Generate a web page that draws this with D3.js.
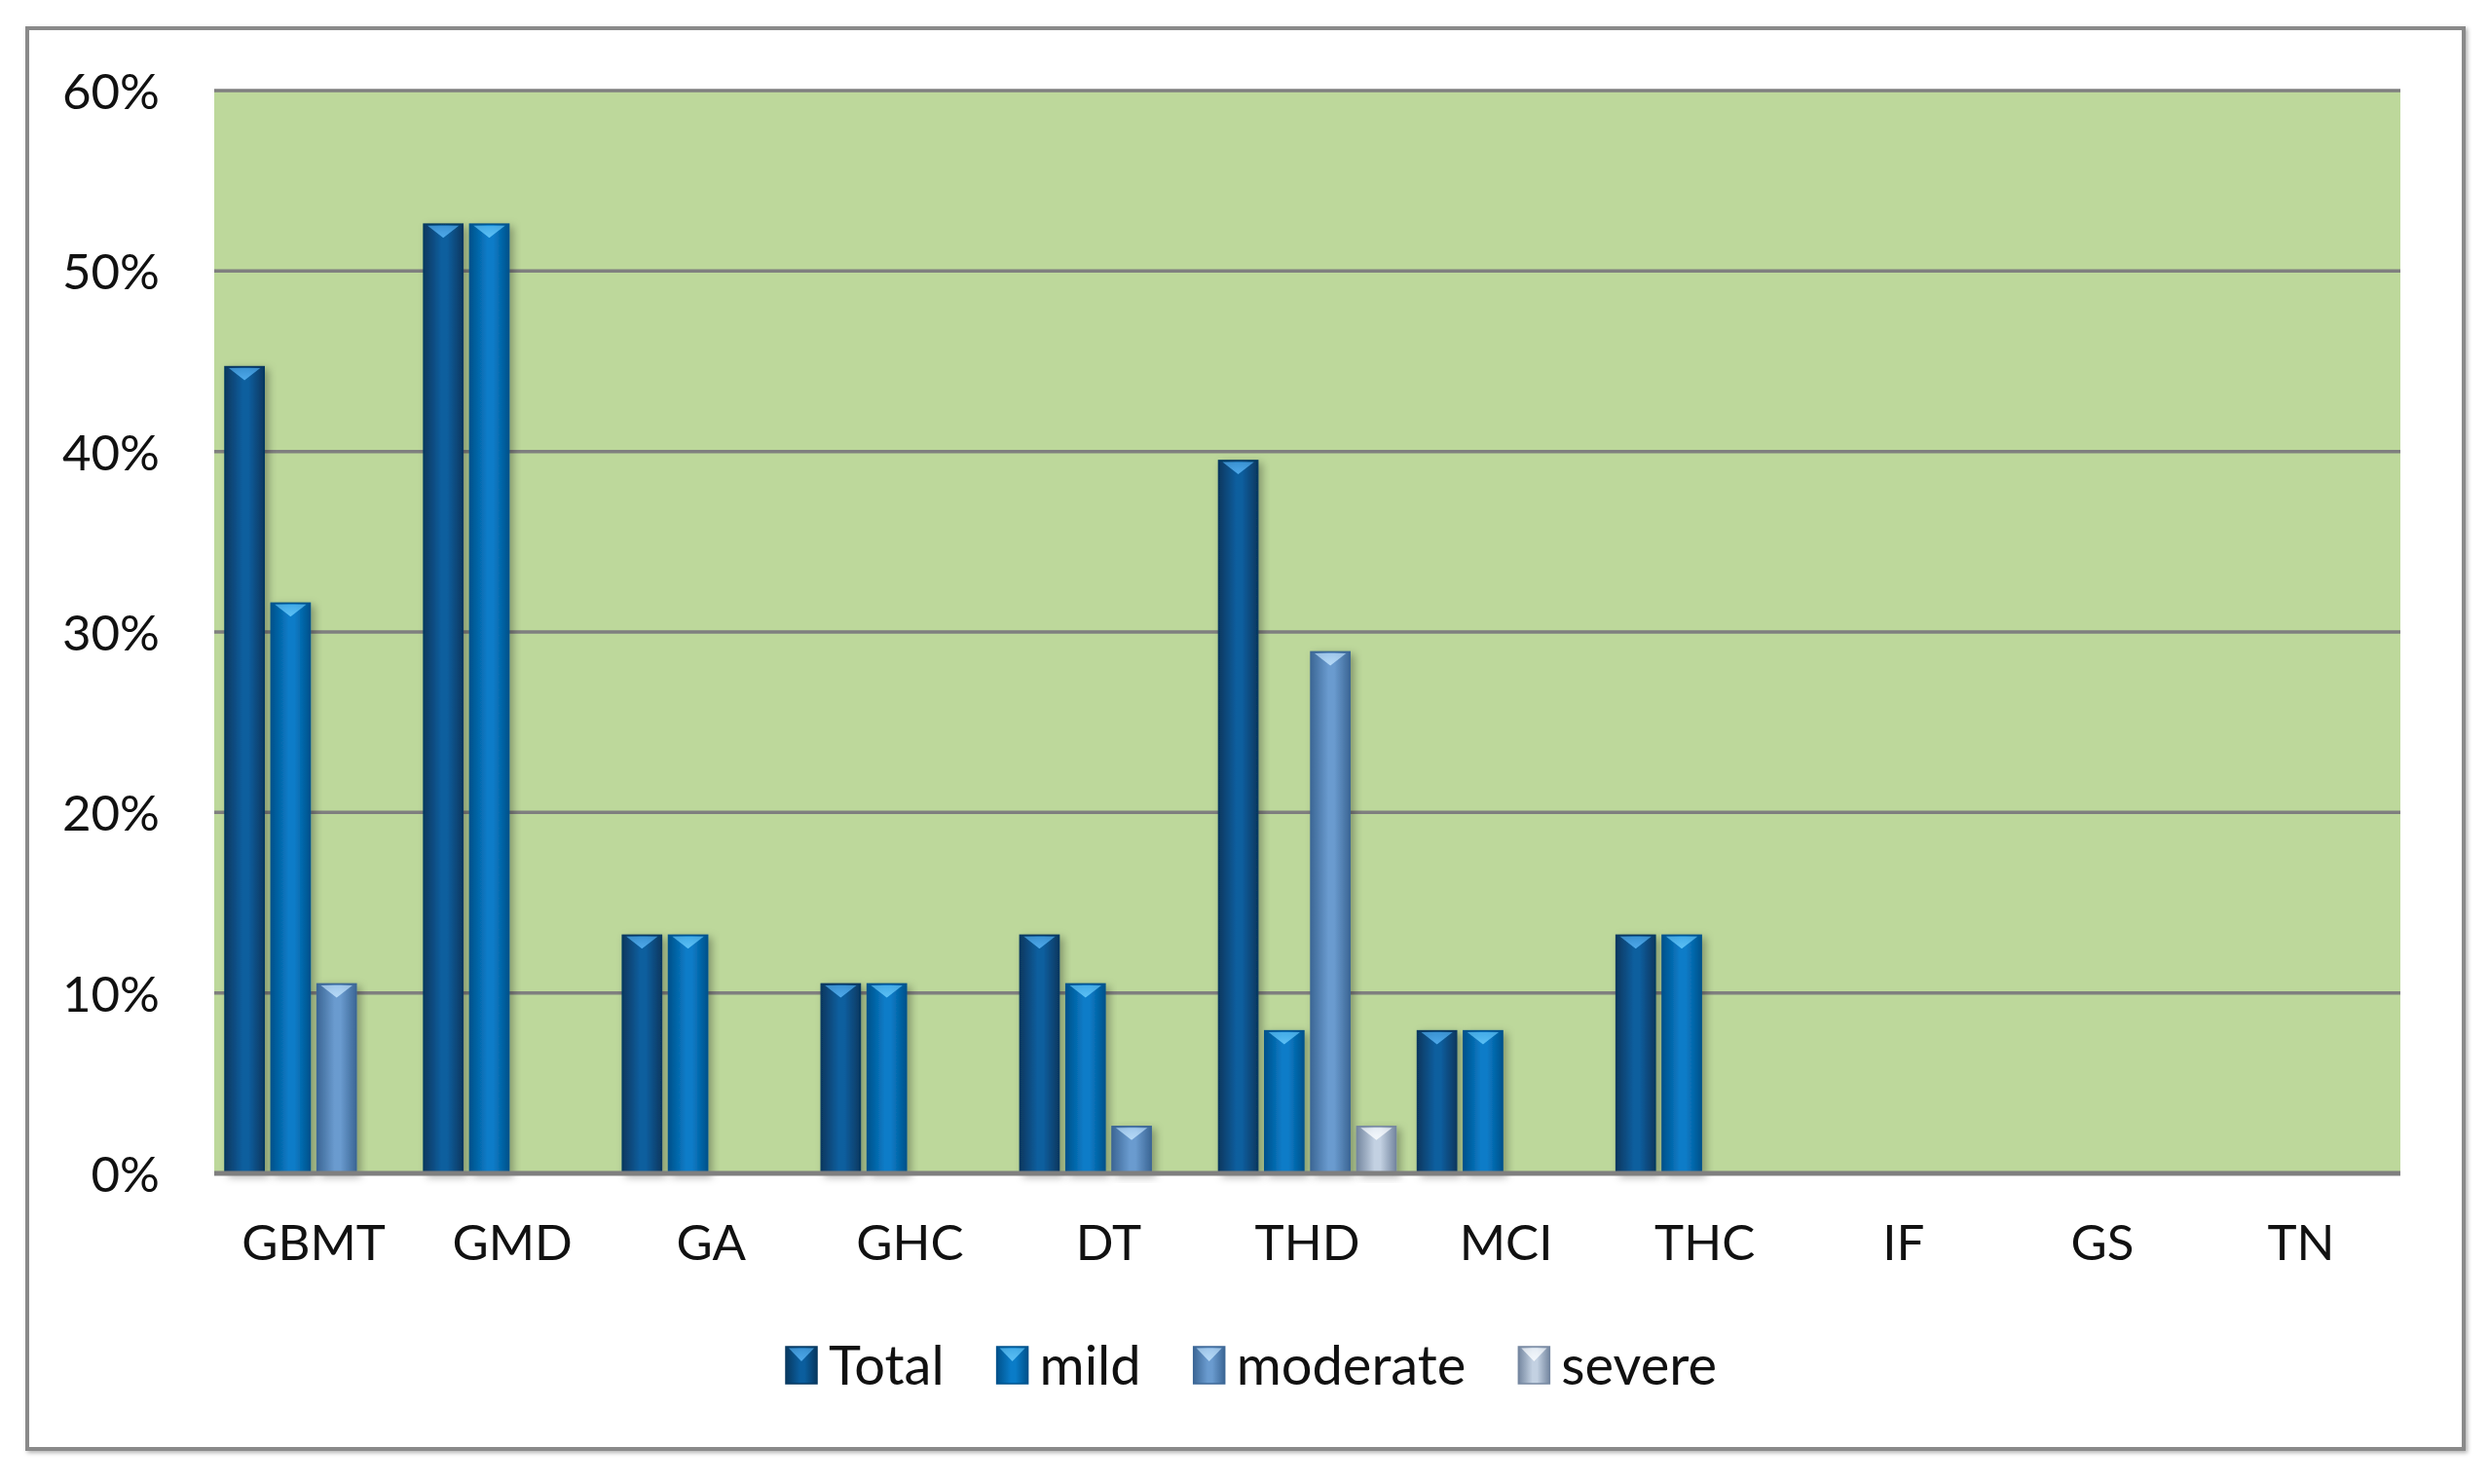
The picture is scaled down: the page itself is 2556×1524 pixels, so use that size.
<!DOCTYPE html>
<html><head><meta charset="utf-8">
<script src="https://cdn.jsdelivr.net/npm/d3@7/dist/d3.min.js"></script>
<style>html,body{margin:0;padding:0;background:#fff;}svg{display:block;}</style>
</head><body>
<svg id="c" width="2556" height="1524"></svg>
<script>
const categories = ["GBMT","GMD","GA","GHC","DT","THD","MCI","THC","IF","GS","TN"];
const seriesNames = ["Total","mild","moderate","severe"];
const totalValues    = [44.7, 52.6, 13.2, 10.5, 13.2, 39.5, 7.9, 13.2, 0, 0, 0];
const mildValues     = [31.6, 52.6, 13.2, 10.5, 10.5, 7.9, 7.9, 13.2, 0, 0, 0];
const moderateValues = [10.5, 0, 0, 0, 2.6, 28.9, 0, 0, 0, 0, 0];
const severeValues   = [0, 0, 0, 0, 0, 2.6, 0, 0, 0, 0, 0];
const yTicks = [0, 10, 20, 30, 40, 50, 60];

const seriesValues = [totalValues, mildValues, moderateValues, severeValues];
const seriesStyle = [
  {edge:"#073860", mid:"#0b5e9e", cap:"#4fa9ea"},
  {edge:"#00528c", mid:"#0a7cc8", cap:"#5cc0f5"},
  {edge:"#3c6796", mid:"#6a9bcf", cap:"#b7daf7"},
  {edge:"#7587a0", mid:"#c3d1e2", cap:"#f4f8fc"}
];

const svg = d3.select("#c");
const plot = {left:220, right:2465, top:93, bottom:1205};

const defs = svg.append("defs");
seriesStyle.forEach((s,i)=>{
  const g = defs.append("linearGradient").attr("id","g"+i).attr("x1","0").attr("x2","1").attr("y1","0").attr("y2","0");
  g.append("stop").attr("offset","0").attr("stop-color",s.edge);
  g.append("stop").attr("offset","0.45").attr("stop-color",s.mid);
  g.append("stop").attr("offset","0.6").attr("stop-color",s.mid);
  g.append("stop").attr("offset","1").attr("stop-color",s.edge);
  const c = defs.append("linearGradient").attr("id","cap"+i).attr("x1","0").attr("x2","0").attr("y1","0").attr("y2","1");
  c.append("stop").attr("offset","0").attr("stop-color",s.cap).attr("stop-opacity",0.7);
  c.append("stop").attr("offset","1").attr("stop-color",s.cap).attr("stop-opacity",1);
});
const f = defs.append("filter").attr("id","sh").attr("x","-30%").attr("y","-10%").attr("width","160%").attr("height","130%");
f.append("feDropShadow").attr("dx",4).attr("dy",3).attr("stdDeviation",4).attr("flood-color","#000").attr("flood-opacity",0.3);
const f2 = defs.append("filter").attr("id","bsh").attr("x","-5%").attr("y","-5%").attr("width","110%").attr("height","110%");
f2.append("feDropShadow").attr("dx",2).attr("dy",2).attr("stdDeviation",2).attr("flood-color","#000").attr("flood-opacity",0.3);

// outer chart border
svg.append("rect").attr("x",28).attr("y",29).attr("width",2502).attr("height",1459)
  .attr("fill","#fff").attr("stroke","#8a8a8a").attr("stroke-width",4).attr("filter","url(#bsh)");

const x = d3.scaleBand().domain(categories).range([plot.left, plot.right]).padding(0);
const bw = x.bandwidth();
const xs = d3.scaleBand().domain(seriesNames).range([11, bw-11]).paddingInner(0.15);
const y = d3.scaleLinear().domain([0,60]).range([plot.bottom, plot.top]);

// plot background
svg.append("rect").attr("x",plot.left).attr("y",plot.top).attr("width",plot.right-plot.left).attr("height",plot.bottom-plot.top).attr("fill","#bdd89b");

// gridlines
svg.append("g").selectAll("line").data(yTicks.filter(t=>t>0)).join("line")
  .attr("x1",plot.left).attr("x2",plot.right).attr("y1",d=>y(d)).attr("y2",d=>y(d))
  .attr("stroke","#7f7f7f").attr("stroke-width",3.5);

// bars
const bars = [];
categories.forEach((c,ci)=>{
  seriesNames.forEach((s,si)=>{
    const v = seriesValues[si][ci];
    if (v>0) bars.push({c, s, si, v});
  });
});
const gb = svg.append("g");
const bg = gb.selectAll("g.bar").data(bars).join("g").attr("class","bar").attr("filter","url(#sh)");
bg.append("rect")
  .attr("x",d=>x(d.c)+xs(d.s)).attr("width",xs.bandwidth())
  .attr("y",d=>y(d.v)).attr("height",d=>y(0)-y(d.v))
  .attr("fill",d=>"url(#g"+d.si+")").attr("stroke",d=>seriesStyle[d.si].edge).attr("stroke-width",1.5);
bg.append("path")
  .attr("d",d=>{
    const x0 = x(d.c)+xs(d.s), w = xs.bandwidth(), t = y(d.v);
    const inset = 4;
    return `M${x0+inset},${t+1.5} L${x0+w-inset},${t+1.5} L${x0+w/2},${t+14} Z`;
  })
  .attr("fill",d=>"url(#cap"+d.si+")");

// x axis line
svg.append("line").attr("x1",plot.left).attr("x2",plot.right).attr("y1",plot.bottom).attr("y2",plot.bottom)
  .attr("stroke","#7f7f7f").attr("stroke-width",5);

const font = "Lato, 'Open Sans', sans-serif";
// y labels
const yAxis = d3.axisLeft(y).tickValues(yTicks).tickFormat(d=>d+"%").tickSize(0).tickPadding(56);
const ya = svg.append("g").attr("transform",`translate(${plot.left},0)`).call(yAxis);
ya.select(".domain").remove();
ya.selectAll("text").attr("font-family",font).attr("font-size",51).attr("fill","#111").attr("dy","0.36em");

// x labels
const xAxis = d3.axisBottom(x).tickSize(0).tickPadding(53);
const xa = svg.append("g").attr("transform",`translate(0,${plot.bottom})`).call(xAxis);
xa.select(".domain").remove();
xa.selectAll("text").attr("font-family",font).attr("font-size",51).attr("fill","#111");

// legend
const lg = svg.append("g").attr("transform","translate(0,1402)");
let lx = 807;
seriesNames.forEach((s,i)=>{
  const it = lg.append("g").attr("transform",`translate(${lx},0)`);
  it.append("rect").attr("x",0).attr("y",-19).attr("width",32).attr("height",38)
    .attr("fill","url(#g"+i+")").attr("stroke",seriesStyle[i].edge).attr("stroke-width",1.5);
  it.append("path").attr("d","M3,-17.5 L29,-17.5 L16,-4 Z").attr("fill","url(#cap"+i+")");
  const t = it.append("text").attr("x",44).attr("y",0).attr("dy","0.36em")
    .attr("font-family",font).attr("font-size",56).attr("fill","#111").text(s);
  const tw = t.node().getComputedTextLength();
  lx += 44 + tw + 54;
});
</script>
</body></html>
